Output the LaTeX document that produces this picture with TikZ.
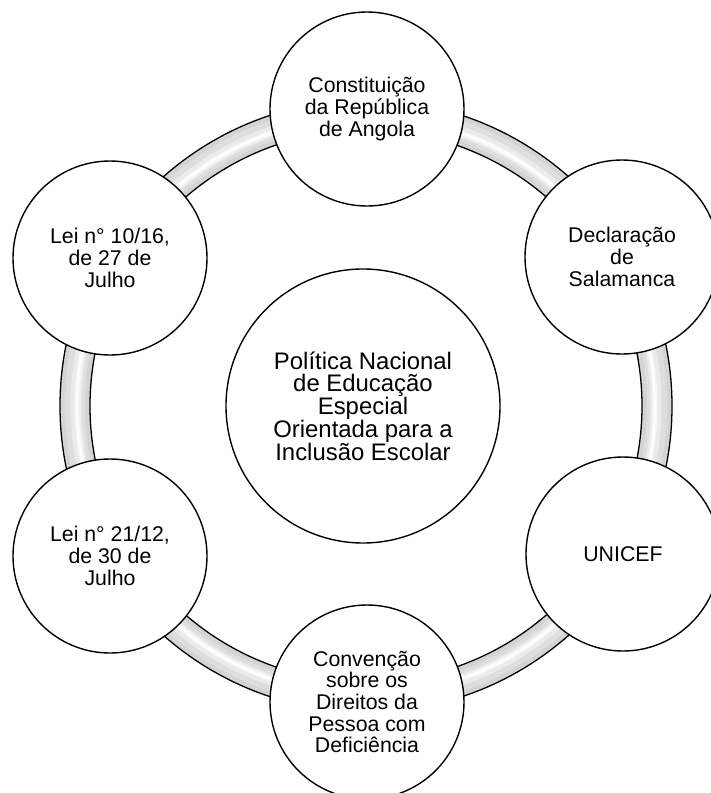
\documentclass[tikz,border=0pt]{standalone}
\usepackage{fontspec}
\setmainfont{Liberation Sans}
\begin{document}
\begin{tikzpicture}[x=1pt,y=-1pt,
  outer/.style={circle,draw=black,line width=1.4pt,fill=white,minimum size=194pt,inner sep=0pt,align=center,
    font=\fontsize{21.3}{21.7}\selectfont},
  hub/.style={circle,draw=black,line width=1.4pt,fill=white,minimum size=274pt,inner sep=0pt,align=center,
    font=\fontsize{23.9}{22.8}\selectfont},
  ringedge/.style={draw=black,line width=1.3pt}]
\useasboundingbox (0,0) rectangle (710,793);
\fill[white] (0,0) rectangle (710,793);
\coordinate (rc) at (366,406);
% ring band
\draw[color=black!17,line width=30pt] (rc) circle[radius=291];
\draw[color=black!13,line width=20pt] (rc) circle[radius=291];
\draw[color=black!8,line width=11pt] (rc) circle[radius=290];
\draw[color=black!3,line width=5pt] (rc) circle[radius=289];
\draw[color=white,line width=1.5pt] (rc) circle[radius=289];
\draw[ringedge] (rc) circle[radius=276];
\draw[ringedge] (rc) circle[radius=306];
% hub
\node[hub] (hub) at (363,406) {Política Nacional\\de Educação\\Especial\\Orientada para a\\Inclusão Escolar};
% outer circles
\node[outer] (c1) at (367,109) {Constituição\\da República\\de Angola};
\node[outer] (c2) at (622,257) {Declaração\\de\\Salamanca};
\node[outer] (c3) at (623,554) {UNICEF};
\node[outer] (c4) at (367,702) {Convenção\\sobre os\\Direitos da\\Pessoa com\\Deficiência};
\node[outer] (c5) at (110,556) {Lei n° 21/12,\\de 30 de\\Julho};
\node[outer] (c6) at (110,258) {Lei n° 10/16,\\de 27 de\\Julho};
\end{tikzpicture}
\end{document}
